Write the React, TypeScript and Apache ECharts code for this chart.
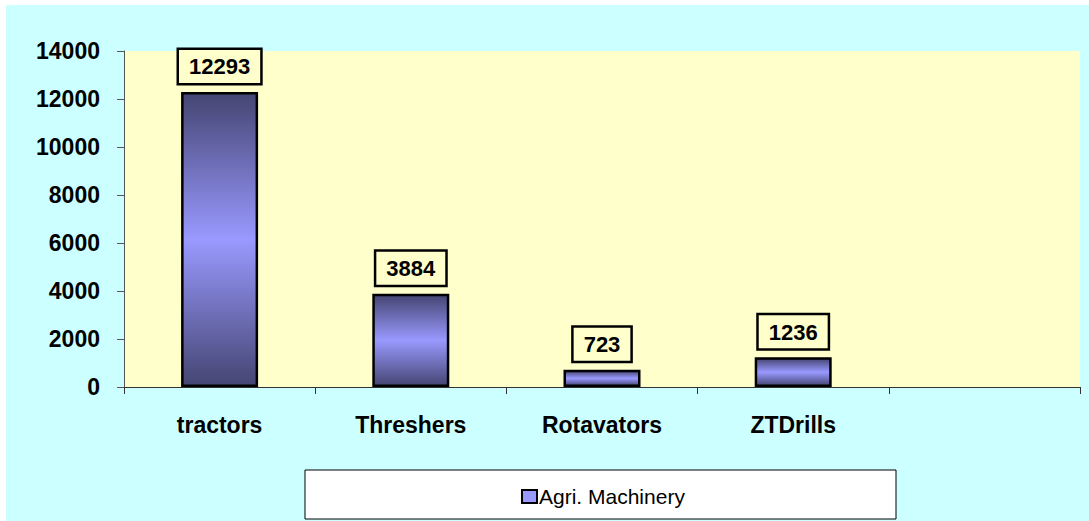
import React, { useEffect, useRef } from "react";
import * as echarts from "echarts";

const categories = ["tractors", "Threshers", "Rotavators", "ZTDrills", ""];
const values: (number | null)[] = [12293, 3884, 723, 1236, null];
const seriesName = "Agri. Machinery";
const yMin = 0;
const yMax = 14000;
const yInterval = 2000;

export default function App() {
  const ref = useRef<HTMLDivElement>(null);
  useEffect(() => {
    if (!ref.current) return;
    const chart = echarts.init(ref.current, null, { renderer: "svg" });
    const font = "Arial, 'Liberation Sans', sans-serif";
    chart.setOption({
      animation: false,
      backgroundColor: "#CCFFFF",
      textStyle: { fontFamily: font },
      grid: {
        left: 118,
        top: 46,
        width: 956,
        height: 336,
        show: true,
        backgroundColor: "#FFFFCC",
        borderWidth: 0,
      },
      graphic: [
        {
          type: "rect",
          z: 0,
          shape: { x: 299, y: 465, width: 591, height: 49 },
          style: { fill: "#FFFFFF", stroke: "#000000", lineWidth: 1 },
        },
      ],
      legend: {
        left: 515,
        top: 481,
        padding: 0,
        icon: "rect",
        itemWidth: 15,
        itemHeight: 13,
        itemGap: 10,
        textStyle: { fontFamily: font, fontSize: 21, color: "#000", padding: [0, 0, 0, -3] },
        data: [
          {
            name: seriesName,
            itemStyle: { color: "#9999FF", borderColor: "#000", borderWidth: 2 },
          },
        ],
      },
      xAxis: {
        type: "category",
        data: categories,
        axisLine: { show: true, lineStyle: { color: "#333", width: 1 } },
        axisTick: { show: true, alignWithLabel: false, interval: 0, length: 7, lineStyle: { color: "#333" } },
        axisLabel: {
          interval: 0,
          margin: 26,
          fontFamily: font,
          fontSize: 23,
          fontWeight: "bold",
          color: "#000",
        },
        splitLine: { show: false },
      },
      yAxis: {
        type: "value",
        min: yMin,
        max: yMax,
        interval: yInterval,
        axisLine: { show: true, lineStyle: { color: "#555", width: 1 } },
        axisTick: { show: true, length: 7, lineStyle: { color: "#555" } },
        axisLabel: {
          margin: 24,
          fontFamily: font,
          fontSize: 23,
          fontWeight: "bold",
          color: "#000",
          formatter: (v: number) => String(v),
        },
        splitLine: { show: false },
      },
      series: [
        {
          name: seriesName,
          type: "bar",
          data: values,
          barWidth: 77,
          itemStyle: {
            color: new echarts.graphic.LinearGradient(0, 0, 0, 1, [
              { offset: 0, color: "#454573" },
              { offset: 0.5, color: "#9999FF" },
              { offset: 1, color: "#454573" },
            ]),
            borderColor: "#000",
            borderWidth: 2.5,
          },
          label: {
            show: true,
            position: "top",
            distance: 9,
            fontFamily: font,
            fontSize: 22,
            fontWeight: "bold",
            color: "#000",
            backgroundColor: "#FFFFCC",
            borderColor: "#000",
            borderWidth: 2.5,
            padding: [6, 10, 5, 10],
            lineHeight: 22,
          },
        },
      ],
    });
    return () => chart.dispose();
  }, []);
  return (
    <div
      ref={ref}
      style={{ position: "absolute", left: 6, top: 5, width: 1083, height: 516 }}
    />
  );
}
